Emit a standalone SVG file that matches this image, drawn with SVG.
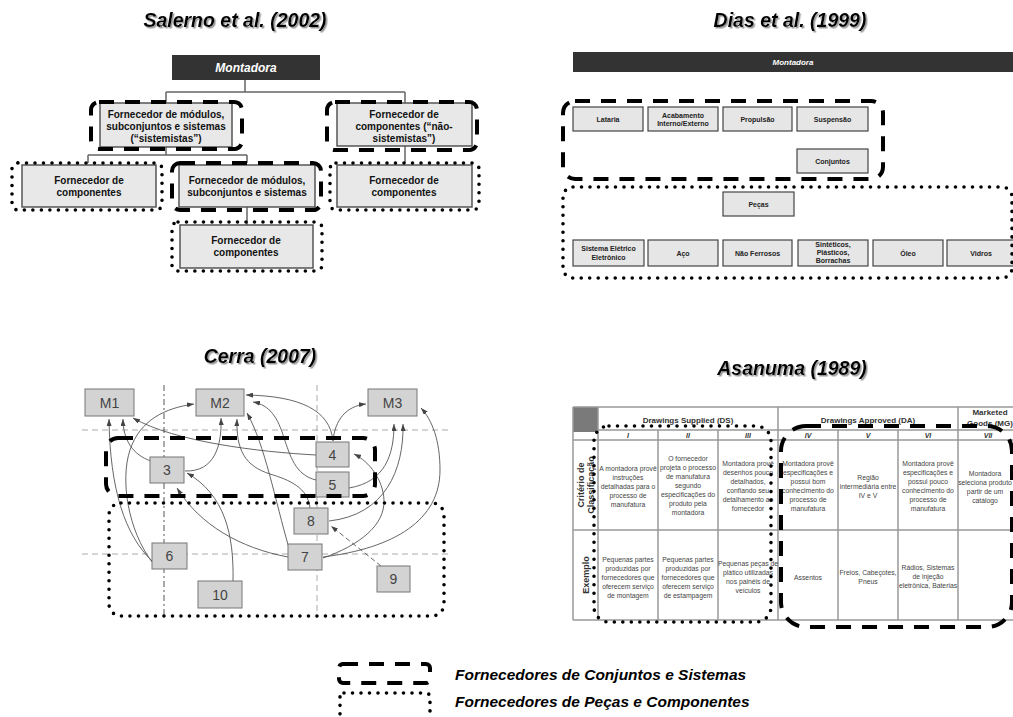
<svg xmlns="http://www.w3.org/2000/svg" width="1013" height="717" viewBox="0 0 1013 717">
  <style>
    text { font-family: "Liberation Sans", Arial, Helvetica, sans-serif; }
    .title { font-size: 19.5px; font-weight: bold; font-style: italic; fill: #000; text-anchor: middle; }
    .dash { fill: none; stroke: #000; stroke-width: 4; stroke-dasharray: 15 11; }
    .dot { fill: none; stroke: #000; stroke-width: 3.6; stroke-dasharray: 0 8.5; stroke-linecap: round; }
    .sbox { fill: #e8e8e8; stroke: #555; stroke-width: 1.5; }
    .stxt { font-size: 10px; font-weight: bold; fill: #111; text-anchor: middle; }
    .link { fill: none; stroke: #666; stroke-width: 1.5; }
    .dbox { fill: #e6e6e6; stroke: #444; stroke-width: 1.2; }
    .dtxt { font-size: 7px; font-weight: bold; fill: #222; text-anchor: middle; }
    .cbox { fill: #d3d3d3; stroke: #777; stroke-width: 1; }
    .ctxt { font-size: 14px; fill: #444; text-anchor: middle; }
    .grid { stroke: #aaa; stroke-width: 1; stroke-dasharray: 6 4; fill: none; }
    .grid2 { stroke: #444; stroke-width: 0.9; stroke-dasharray: 6 3 2 3; fill: none; }
    .arr { fill: none; stroke: #555; stroke-width: 0.9; marker-end: url(#ah); }
    .tline { stroke: #999; stroke-width: 1.5; fill: none; }
    .th { font-size: 8px; font-weight: bold; fill: #333; text-anchor: middle; }
    .rom { font-size: 7px; font-weight: bold; font-style: italic; fill: #333; text-anchor: middle; }
    .tc { font-size: 6.8px; fill: #444; text-anchor: middle; }
    .rl { font-size: 9px; font-weight: bold; fill: #333; text-anchor: middle; }
    .leg { font-size: 15.5px; font-weight: bold; font-style: italic; fill: #000; }
  </style>
  <defs>
    <filter id="shadow" x="-10%" y="-30%" width="120%" height="160%">
      <feDropShadow dx="1.5" dy="1.5" stdDeviation="0.6" flood-color="#999"/>
    </filter>
    <marker id="ah" markerUnits="userSpaceOnUse" markerWidth="7" markerHeight="5" refX="7" refY="2.5" orient="auto">
      <path d="M0,0 L7,2.5 L0,5 z" fill="#444"/>
    </marker>
  </defs>

  <rect width="1013" height="717" fill="#fff"/>

  <!-- ===== Salerno et al. (2002) : hierarchy ===== -->
  <text class="title" x="235" y="27" filter="url(#shadow)">Salerno et al. (2002)</text>

  <g id="salerno-connectors">
    <path class="link" d="M245,80 V92 M166,92 H405 M166,92 V103 M405,92 V103"/>
    <path class="link" d="M166,147 V155 M88,155 H247 M88,155 V163 M247,155 V163"/>
    <path class="link" d="M405,146 V163"/>
    <path class="link" d="M247,207 V225"/>
  </g>

  <g id="s-montadora">
    <rect x="172" y="55" width="148" height="25" fill="#333"/>
    <text x="246" y="72" font-size="12" font-weight="bold" font-style="italic" fill="#fff" text-anchor="middle">Montadora</text>
  </g>
  <g id="s-sistemistas">
    <rect class="sbox" x="100" y="103" width="132" height="44"/>
    <text class="stxt" x="166" y="118">Fornecedor de módulos,</text>
    <text class="stxt" x="166" y="130">subconjuntos e sistemas</text>
    <text class="stxt" x="166" y="142">(“sistemistas”)</text>
    <rect class="dash" x="91" y="102" width="151" height="47" rx="8"/>
  </g>
  <g id="s-nao-sistemistas">
    <rect class="sbox" x="337" y="103" width="135" height="43"/>
    <text class="stxt" x="404" y="118">Fornecedor de</text>
    <text class="stxt" x="404" y="130">componentes (“não-</text>
    <text class="stxt" x="404" y="142">sistemistas”)</text>
    <rect class="dash" x="327" y="102" width="150" height="48" rx="8"/>
  </g>
  <g id="s-componentes-1">
    <rect class="sbox" x="22" y="165" width="134" height="42"/>
    <text class="stxt" x="89" y="184">Fornecedor de</text>
    <text class="stxt" x="89" y="196">componentes</text>
    <rect class="dot" x="12" y="163" width="150" height="47" rx="6"/>
  </g>
  <g id="s-modulos">
    <rect class="sbox" x="179" y="165" width="136" height="42"/>
    <text class="stxt" x="247" y="184">Fornecedor de módulos,</text>
    <text class="stxt" x="247" y="196">subconjuntos e sistemas</text>
    <rect class="dash" x="172" y="163" width="149" height="47" rx="8"/>
  </g>
  <g id="s-componentes-2">
    <rect class="sbox" x="337" y="165" width="135" height="42"/>
    <text class="stxt" x="404" y="184">Fornecedor de</text>
    <text class="stxt" x="404" y="196">componentes</text>
    <rect class="dot" x="330" y="163" width="149" height="47" rx="6"/>
  </g>
  <g id="s-componentes-3">
    <rect class="sbox" x="180" y="225" width="133" height="43"/>
    <text class="stxt" x="246" y="244">Fornecedor de</text>
    <text class="stxt" x="246" y="256">componentes</text>
    <rect class="dot" x="172" y="222" width="150" height="49" rx="6"/>
  </g>

  <!-- ===== Dias et al. (1999) : tiers ===== -->
  <text class="title" x="790" y="27" filter="url(#shadow)">Dias et al. (1999)</text>

  <g id="d-montadora">
    <rect x="573" y="52" width="440" height="20" fill="#333"/>
    <text x="793" y="65" font-size="8" font-weight="bold" font-style="italic" fill="#fff" text-anchor="middle">Montadora</text>
  </g>
  <g id="d-lataria"><rect class="dbox" x="573" y="107" width="70" height="24"/><text class="dtxt" x="608" y="121.5">Lataria</text></g>
  <g id="d-acabamento"><rect class="dbox" x="648" y="107" width="70" height="24"/><text class="dtxt" x="683" y="117.5">Acabamento</text><text class="dtxt" x="683" y="125.5">Interno/Externo</text></g>
  <g id="d-propulsao"><rect class="dbox" x="723" y="107" width="69" height="24"/><text class="dtxt" x="757.5" y="121.5">Propulsão</text></g>
  <g id="d-suspensao"><rect class="dbox" x="797" y="107" width="71" height="24"/><text class="dtxt" x="832.5" y="121.5">Suspensão</text></g>
  <g id="d-conjuntos"><rect class="dbox" x="797" y="149" width="71" height="24"/><text class="dtxt" x="832.5" y="163.5">Conjuntos</text></g>
  <rect class="dash" x="563" y="101" width="320" height="78" rx="12"/>

  <g id="d-pecas"><rect class="dbox" x="723" y="192" width="71" height="24"/><text class="dtxt" x="758.5" y="206.5">Peças</text></g>
  <g id="d-eletrico"><rect class="dbox" x="573" y="240" width="71" height="26"/><text class="dtxt" x="608.5" y="251">Sistema Elétrico</text><text class="dtxt" x="608.5" y="259.5">Eletrônico</text></g>
  <g id="d-aco"><rect class="dbox" x="648" y="240" width="70" height="26"/><text class="dtxt" x="683" y="255.5">Aço</text></g>
  <g id="d-nao-ferrosos"><rect class="dbox" x="723" y="240" width="69" height="26"/><text class="dtxt" x="757.5" y="255.5">Não Ferrosos</text></g>
  <g id="d-sinteticos"><rect class="dbox" x="798" y="240" width="70" height="26"/><text class="dtxt" x="833" y="247">Sintéticos,</text><text class="dtxt" x="833" y="255">Plásticos,</text><text class="dtxt" x="833" y="263">Borrachas</text></g>
  <g id="d-oleo"><rect class="dbox" x="873" y="240" width="70" height="26"/><text class="dtxt" x="908" y="255.5">Óleo</text></g>
  <g id="d-vidros"><rect class="dbox" x="947" y="240" width="70" height="26"/><text class="dtxt" x="981" y="255.5">Vidros</text></g>
  <rect class="dot" x="563" y="187" width="449" height="91" rx="10"/>

  <!-- ===== Cerra (2007) : network ===== -->
  <text class="title" x="260" y="363" filter="url(#shadow)">Cerra (2007)</text>

  <g id="cerra-grid">
    <path class="grid" d="M82,430 H450 M82,554 H450 M317,385 V618"/>
    <path class="grid2" d="M164,385 V618"/>
  </g>

  <g id="cerra-connectors">
    <path class="arr" d="M152,561 C125,535 110,490 109,419"/>
    <path class="arr" d="M151,461 C133,455 123,440 123,419"/>
    <path class="arr" d="M316,455 C260,452 175,442 133,418"/>
    <path class="arr" d="M152,562 C128,530 120,480 130,450 C140,420 165,408 194,404"/>
    <path class="arr" d="M185,471 C215,472 222,445 221,418"/>
    <path class="arr" d="M310,508 C308,488 290,480 270,474 C245,466 236,450 237,419"/>
    <path class="arr" d="M289,548 C275,500 265,445 247,413"/>
    <path class="arr" d="M333,441 C330,410 300,396 246,395"/>
    <path class="arr" d="M316,480 C295,475 290,455 284,438 C278,418 270,405 253,402"/>
    <path class="arr" d="M333,441 C335,420 346,406 366,404"/>
    <path class="arr" d="M349,488 C385,482 394,455 394,424"/>
    <path class="arr" d="M329,521 C385,515 404,470 403,424"/>
    <path class="arr" d="M323,557 C395,548 440,520 440,470 C440,440 432,420 421,408"/>
    <path class="arr" d="M323,558 C360,545 385,525 384,500 C383,480 370,462 354,454"/>
    <path class="arr" d="M288,557 C240,548 200,525 177,488"/>
    <path class="arr" d="M233,581 C234,535 225,495 187,473"/>
    <path class="arr" d="M381,566 L331,526" stroke-dasharray="5 3"/>
  </g>

  <g id="c-m1"><rect class="cbox" x="85" y="389" width="49" height="27"/><text class="ctxt" x="109.5" y="408">M1</text></g>
  <g id="c-m2"><rect class="cbox" x="196" y="389" width="48" height="27"/><text class="ctxt" x="220" y="408">M2</text></g>
  <g id="c-m3"><rect class="cbox" x="368" y="389" width="49" height="27"/><text class="ctxt" x="392.5" y="408">M3</text></g>
  <g id="c-3"><rect class="cbox" x="150" y="457" width="34" height="26"/><text class="ctxt" x="167" y="475">3</text></g>
  <g id="c-4"><rect class="cbox" x="316" y="442" width="33" height="25"/><text class="ctxt" x="332.5" y="459.5">4</text></g>
  <g id="c-5"><rect class="cbox" x="316" y="472" width="33" height="25"/><text class="ctxt" x="332.5" y="489.5">5</text></g>
  <g id="c-8"><rect class="cbox" x="294" y="508" width="34" height="26"/><text class="ctxt" x="311" y="526">8</text></g>
  <g id="c-6"><rect class="cbox" x="152" y="543" width="35" height="26"/><text class="ctxt" x="169.5" y="561">6</text></g>
  <g id="c-7"><rect class="cbox" x="288" y="544" width="34" height="26"/><text class="ctxt" x="305" y="562">7</text></g>
  <g id="c-9"><rect class="cbox" x="377" y="566" width="33" height="26"/><text class="ctxt" x="393.5" y="584">9</text></g>
  <g id="c-10"><rect class="cbox" x="198" y="581" width="44" height="27"/><text class="ctxt" x="220" y="600">10</text></g>

  <rect class="dash" x="106" y="438" width="269" height="58" rx="12"/>
  <rect class="dot" x="109" y="503" width="335" height="113" rx="12"/>

  <!-- ===== Asanuma (1989) : classification table ===== -->
  <text class="title" x="792" y="375" filter="url(#shadow)">Asanuma (1989)</text>

  <g id="asanuma-table">
    <rect x="573" y="407" width="25" height="25" fill="#7a7a7a"/>
    <path class="tline" d="M573,407 H1013 M598,430 H1013 M573,440 H1013 M573,530 H1013 M573,620 H1013"/>
    <path class="tline" d="M573,407 V620 M598,407 V620 M778,407 V620 M958,407 V620 M658,430 V620 M718,430 V620 M838,430 V620 M898,430 V620"/>

    <text class="th" x="688" y="423">Drawings Supplied (DS)</text>
    <text class="th" x="868" y="423">Drawings Approved (DA)</text>
    <text class="th" x="990" y="415">Marketed</text>
    <text class="th" x="990" y="426">Goods (MG)</text>

    <text class="rom" x="628" y="438">I</text>
    <text class="rom" x="688" y="438">II</text>
    <text class="rom" x="748" y="438">III</text>
    <text class="rom" x="808" y="438">IV</text>
    <text class="rom" x="868" y="438">V</text>
    <text class="rom" x="928" y="438">VI</text>
    <text class="rom" x="988" y="438">VII</text>

    <text class="rl" transform="translate(585,485) rotate(-90)"><tspan x="0" y="-1">Critério de</tspan><tspan x="0" y="8.5">Classificação</tspan></text>
    <text class="rl" transform="translate(589,575) rotate(-90)" font-size="10">Exemplo</text>

    <g id="cell-i-crit"><text class="tc" x="628" y="470.5">A montadora provê</text><text class="tc" x="628" y="479.5">instruções</text><text class="tc" x="628" y="488.5">detalhadas para o</text><text class="tc" x="628" y="497.5">processo de</text><text class="tc" x="628" y="506.5">manufatura</text></g>
    <g id="cell-ii-crit"><text class="tc" x="688" y="460.5">O fornecedor</text><text class="tc" x="688" y="469.5">projeta o processo</text><text class="tc" x="688" y="478.5">de manufatura</text><text class="tc" x="688" y="487.5">segundo</text><text class="tc" x="688" y="496.5">especificações do</text><text class="tc" x="688" y="505.5">produto pela</text><text class="tc" x="688" y="514.5">montadora</text></g>
    <g id="cell-iii-crit"><text class="tc" x="748" y="465.5">Montadora provê</text><text class="tc" x="748" y="474.5">desenhos pouco</text><text class="tc" x="748" y="483.5">detalhados,</text><text class="tc" x="748" y="492.5">confiando seu</text><text class="tc" x="748" y="501.5">detalhamento ao</text><text class="tc" x="748" y="510.5">fornecedor</text></g>
    <g id="cell-iv-crit"><text class="tc" x="808" y="465.5">Montadora provê</text><text class="tc" x="808" y="474.5">especificações e</text><text class="tc" x="808" y="483.5">possui bom</text><text class="tc" x="808" y="492.5">conhecimento do</text><text class="tc" x="808" y="501.5">processo de</text><text class="tc" x="808" y="510.5">manufatura</text></g>
    <g id="cell-v-crit"><text class="tc" x="868" y="479.5">Região</text><text class="tc" x="868" y="488.5">intermediária entre</text><text class="tc" x="868" y="497.5">IV e V</text></g>
    <g id="cell-vi-crit"><text class="tc" x="928" y="465.5">Montadora provê</text><text class="tc" x="928" y="474.5">especificações e</text><text class="tc" x="928" y="483.5">possui pouco</text><text class="tc" x="928" y="492.5">conhecimento do</text><text class="tc" x="928" y="501.5">processo de</text><text class="tc" x="928" y="510.5">manufatura</text></g>
    <g id="cell-vii-crit"><text class="tc" x="985" y="475.5">Montadora</text><text class="tc" x="985" y="484.5">seleciona produto</text><text class="tc" x="985" y="493.5">partir de um</text><text class="tc" x="985" y="502.5">catálogo</text></g>

    <g id="cell-i-ex"><text class="tc" x="628" y="561.5">Pequenas partes</text><text class="tc" x="628" y="570.5">produzidas por</text><text class="tc" x="628" y="579.5">fornecedores que</text><text class="tc" x="628" y="588.5">oferecem serviço</text><text class="tc" x="628" y="597.5">de montagem</text></g>
    <g id="cell-ii-ex"><text class="tc" x="688" y="561.5">Pequenas partes</text><text class="tc" x="688" y="570.5">produzidas por</text><text class="tc" x="688" y="579.5">fornecedores que</text><text class="tc" x="688" y="588.5">oferecem serviço</text><text class="tc" x="688" y="597.5">de estampagem</text></g>
    <g id="cell-iii-ex"><text class="tc" x="748" y="565.5">Pequenas peças de</text><text class="tc" x="748" y="574.5">plático utilizadas</text><text class="tc" x="748" y="583.5">nos painéis de</text><text class="tc" x="748" y="592.5">veículos</text></g>
    <g id="cell-iv-ex"><text class="tc" x="808" y="579.5">Assentos</text></g>
    <g id="cell-v-ex"><text class="tc" x="868" y="574.5">Freios, Cabeçotes,</text><text class="tc" x="868" y="583.5">Pneus</text></g>
    <g id="cell-vi-ex"><text class="tc" x="928" y="569.5">Rádios, Sistemas</text><text class="tc" x="928" y="578.5">de injeção</text><text class="tc" x="928" y="587.5">eletrônica, Baterias</text></g>
  </g>

  <rect class="dot" x="594" y="426" width="177" height="196" rx="15"/>
  <rect class="dash" x="781" y="426" width="231" height="201" rx="25"/>

  <!-- ===== Legend ===== -->
  <g id="legend">
    <rect class="dash" x="339" y="664" width="91" height="19" rx="4" stroke-dasharray="17 11"/>
    <rect class="dot" x="340" y="693" width="90" height="40" rx="4"/>
    <text class="leg" x="455" y="680">Fornecedores de Conjuntos e Sistemas</text>
    <text class="leg" x="455" y="707">Fornecedores de Peças e Componentes</text>
  </g>
</svg>
